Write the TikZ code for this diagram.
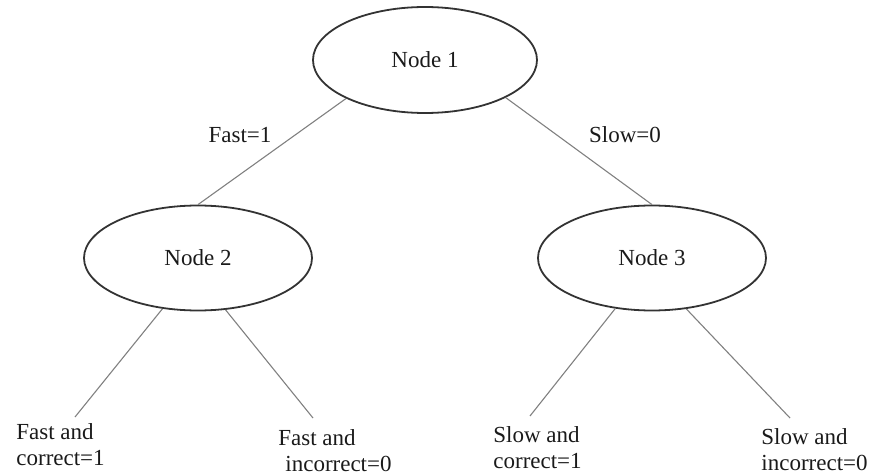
\documentclass[tikz,border=0pt]{standalone}
\usepackage{fontspec}
\setmainfont{Liberation Serif}
\usetikzlibrary{shapes.geometric, positioning}
\definecolor{rimgray}{RGB}{51,51,51}
\definecolor{branchgray}{RGB}{128,128,128}
\definecolor{inkblack}{RGB}{26,26,26}
\tikzset{
    treenode/.style={ellipse, draw=rimgray, line width=0.9pt, minimum width=#1, minimum height=52.5pt, inner sep=0pt, text=inkblack, font=\fontsize{11.5}{13.5}\selectfont},
    treenode/.default=114pt,
    branch/.style={draw=branchgray, line width=0.55pt},
    leaftext/.style={anchor=north west, align=left, inner sep=0pt, text=inkblack, font=\fontsize{11.5}{13}\selectfont},
    edgelabel/.style={anchor=base, inner sep=0pt, text=inkblack, font=\fontsize{11.5}{13.5}\selectfont}
}

\begin{document}
\begin{tikzpicture}[x=0.5pt, y=-0.5pt]

\useasboundingbox (0,0) rectangle (874,476);

% decision nodes
\node[treenode=112pt, minimum height=53pt] (n1) at (425,60) {Node 1};
\node[treenode] (n2) at (198,258) {Node 2};
\node[treenode] (n3) at (652,258) {Node 3};

% branch labels
\node[edgelabel] (fast) at (240,143) {Fast=1};
\node[edgelabel] (slow) at (625,143) {Slow=0};

% leaf outcomes
\coordinate (t1) at (75,417);
\coordinate (t2) at (313,418);
\coordinate (t3) at (530,416);
\coordinate (t4) at (790,418);
\node[leaftext] (l1) at (16,423) {Fast and\\correct=1};
\node[leaftext] (l2) at (278,429) {Fast and\\\hspace{3.5pt}incorrect=0};
\node[leaftext] (l3) at (493,426) {Slow and\\correct=1};
\node[leaftext] (l4) at (761,428) {Slow and\\incorrect=0};

\draw[branch] (n1.206) -- (n2.north);
\draw[branch] (n1.335) -- (n3.north);
\draw[branch] (n2.235) -- (t1);
\draw[branch] (n2.298) -- (t2);
\draw[branch] (n3.234) -- (t3);
\draw[branch] (n3.304) -- (t4);

\end{tikzpicture}
\end{document}
